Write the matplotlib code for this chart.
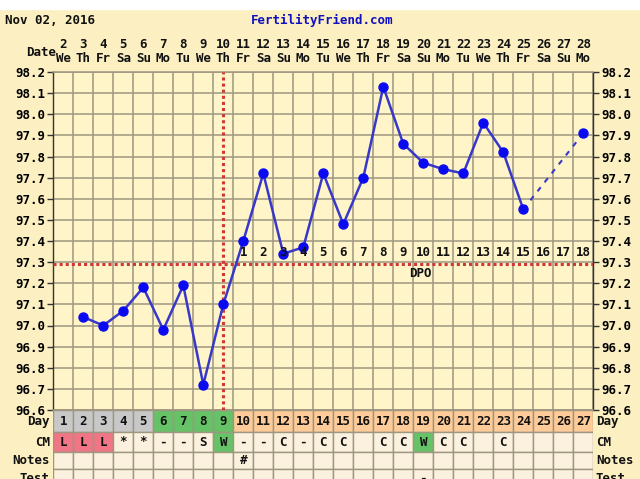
import matplotlib
matplotlib.use("Agg")
import matplotlib.pyplot as plt
from matplotlib.patches import Rectangle
from matplotlib.transforms import blended_transform_factory

# ---------------- data ----------------
cycle_days = list(range(1, 28))
dates = list(range(2, 29))
weekdays = ["We", "Th", "Fr", "Sa", "Su", "Mo", "Tu"] * 4
weekdays = weekdays[:27]
temp_days = [2, 3, 4, 5, 6, 7, 8, 9, 10, 11, 12, 13, 14, 15, 16, 17, 18, 19, 20, 21, 22, 23, 24]
temps = [97.04, 97.00, 97.07, 97.18, 96.98, 97.19, 96.72, 97.10, 97.40, 97.72, 97.34, 97.37,
         97.72, 97.48, 97.70, 98.13, 97.86, 97.77, 97.74, 97.72, 97.96, 97.82, 97.55]
last_day = 27
last_temp = 97.91
ovulation_day = 9
coverline = 97.29
dpo_labels = list(range(1, 19))
cm_labels = ["L", "L", "L", "*", "*", "-", "-", "S", "W", "-", "-", "C", "-", "C", "C", "",
             "C", "C", "W", "C", "C", "", "C", "", "", "", ""]
notes_labels = [""] * 9 + ["#"] + [""] * 17
test_labels = [""] * 18 + ["-"] + [""] * 8
day_phase = ["g"] * 5 + ["f"] * 4 + ["l"] * 18
y_ticks = [96.6, 96.7, 96.8, 96.9, 97.0, 97.1, 97.2, 97.3, 97.4, 97.5, 97.6, 97.7, 97.8,
           97.9, 98.0, 98.1, 98.2]

# ---------------- style ----------------
W, H = 640, 479
BG = "#FCF0C2"
PLOT_BG = "#FFF5C8"
GRID = "#9E9681"
BLUE_LINE = "#3737C8"
BLUE_DOT = "#0A0AF0"
RED = "#D03838"
FONT = {"family": "DejaVu Sans Mono", "weight": "bold", "size": 9}
phase_colors = {"g": "#C8C8C8", "f": "#66C266", "l": "#FFCC99"}
cm_colors = {"L": "#F07585", "W": "#66C266"}
CELL = "#FBF1DE"

fig = plt.figure(figsize=(W / 100, H / 100), dpi=100, facecolor=BG)
fig.patches.append(Rectangle((0, 1 - 9 / H), 1, 9 / H, transform=fig.transFigure,
                             color="white", zorder=0))

x0, x1 = 53.3, 593.3
ytop, ybot = 72, 410
ax = fig.add_axes([x0 / W, (H - ybot) / H, (x1 - x0) / W, (ybot - ytop) / H])
ax.set_facecolor(PLOT_BG)
ax.set_xlim(0.5, 27.5)
ax.set_ylim(96.6, 98.2)
ax.set_xticks([d + 0.5 for d in range(0, 28)])
ax.set_xticklabels([])
ax.tick_params(axis="x", length=0)
ax.set_yticks(y_ticks)
ax.set_yticklabels([f"{v:.1f}" for v in y_ticks])
ax.tick_params(axis="y", left=True, right=True, labelleft=True, labelright=True,
               direction="out", length=4, width=1, color="#333333", pad=2)
for lab in ax.get_yticklabels():
    lab.set_fontfamily(FONT["family"]); lab.set_fontweight("bold"); lab.set_fontsize(9)
ax.grid(True, color=GRID, linewidth=1.1)
for s in ["top", "bottom"]:
    ax.spines[s].set_color(GRID)
    ax.spines[s].set_linewidth(1.1)
for s in ["left", "right"]:
    ax.spines[s].set_color("#333333")
    ax.spines[s].set_linewidth(1.0)

# coverline and ovulation line
ax.axhline(coverline, color=RED, linewidth=2.2, linestyle=(0, (1, 1)), zorder=3)
ax.axvline(ovulation_day, color=RED, linewidth=2.2, linestyle=(0, (1, 1)), zorder=3)

# temperature line
ax.plot(temp_days, temps, color=BLUE_LINE, linewidth=1.8, zorder=4)
ax.plot(temp_days, temps, "o", color=BLUE_DOT, markersize=6.5, zorder=5)
ax.plot([temp_days[-1], last_day], [temps[-1], last_temp], color=BLUE_LINE,
        linewidth=1.5, linestyle=(0, (2.5, 3)), zorder=4)
ax.plot([last_day], [last_temp], "o", color=BLUE_DOT, markersize=6.5, zorder=5)

# DPO labels
for i, lab in enumerate(dpo_labels):
    ax.text(ovulation_day + 1 + i, coverline + 0.055, str(lab), ha="center", va="center",
            fontdict=FONT, color="#111111", zorder=6)
ax.text(18.86, 97.245, "DPO", ha="center", va="center", fontdict=FONT, color="#111111")

# header
def fy(py):
    return 1 - py / H

fig.text(5 / W, fy(20), "Nov 02, 2016", ha="left", va="center", fontdict=FONT, color="#111111")
fig.text(322 / W, fy(20), "FertilityFriend.com", ha="center", va="center",
         fontdict=FONT, color="#1010C0")
trans = blended_transform_factory(ax.transData, fig.transFigure)
for d, dt, wd in zip(cycle_days, dates, weekdays):
    ax.text(d, fy(45), str(dt), transform=trans, ha="center", va="center",
            fontdict=FONT, color="#111111")
    ax.text(d, fy(59), wd, transform=trans, ha="center", va="center",
            fontdict=FONT, color="#111111")
fig.text(41 / W, fy(52), "Date", ha="center", va="center", fontdict=FONT, color="#111111")

# ---------------- table below ----------------
tab = fig.add_axes([x0 / W, 0, (x1 - x0) / W, (H - ybot) / H])
tab.set_xlim(0.5, 27.5)
tab.set_ylim(H - ybot, 0)
tab.axis("off")
rows = [("Day", 0, 22), ("CM", 22, 20), ("Notes", 42, 17), ("Test", 59, 20)]
day_cols = [phase_colors[p] for p in day_phase]
cm_cols = [cm_colors.get(c, CELL) for c in cm_labels]
tab.bar(cycle_days, 22, bottom=0, width=1, color=day_cols, edgecolor=GRID, linewidth=1.0)
tab.bar(cycle_days, 20, bottom=22, width=1, color=cm_cols, edgecolor=GRID, linewidth=1.0)
tab.bar(cycle_days, 17, bottom=42, width=1, color=CELL, edgecolor=GRID, linewidth=1.0)
tab.bar(cycle_days, 20, bottom=59, width=1, color=CELL, edgecolor=GRID, linewidth=1.0)
for d in cycle_days:
    tab.text(d, 11.5, str(d), ha="center", va="center", fontdict=FONT, color="#111111")
for d, c in zip(cycle_days, cm_labels):
    if c:
        tab.text(d, 32, c, ha="center", va="center", fontdict=FONT, color="#111111")
for d, c in zip(cycle_days, notes_labels):
    if c:
        tab.text(d, 50.5, c, ha="center", va="center", fontdict=FONT, color="#111111")
for d, c in zip(cycle_days, test_labels):
    if c:
        tab.text(d, 68, c, ha="center", va="center", fontdict=FONT, color="#111111")
tabtrans = blended_transform_factory(fig.transFigure, tab.transData)
for name, top, h in rows:
    fig.text(50 / W, 0, name, transform=tabtrans, ha="right", va="center",
             fontdict=FONT, color="#111111").set_y(top + h / 2)
    fig.text(596 / W, 0, name, transform=tabtrans, ha="left", va="center",
             fontdict=FONT, color="#111111").set_y(top + h / 2)

fig.savefig("out.png", dpi=100, facecolor=BG)
